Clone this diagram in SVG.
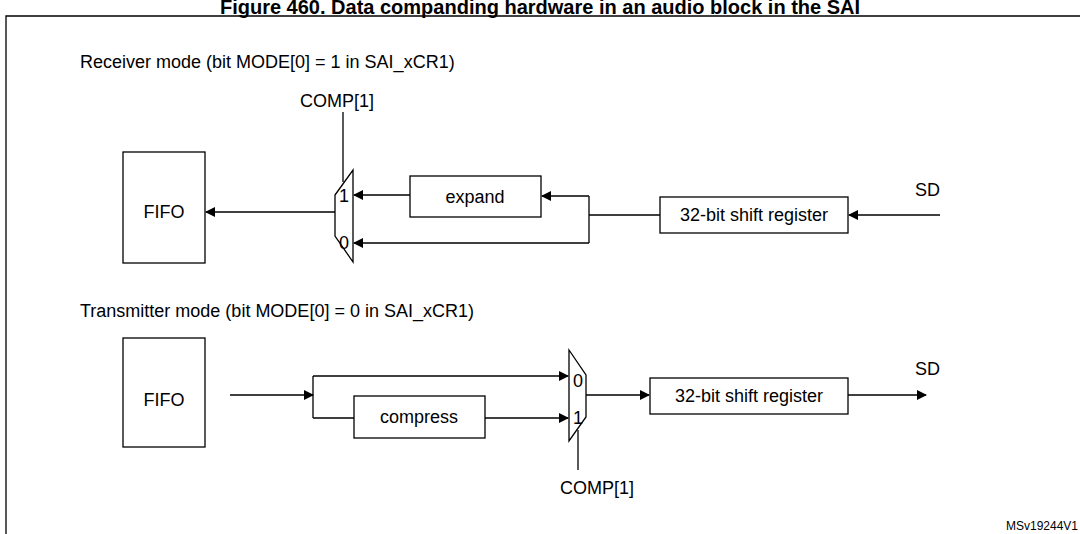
<svg xmlns="http://www.w3.org/2000/svg" width="1080" height="534" viewBox="0 0 1080 534">
<defs>
<marker id="ah" markerWidth="10" markerHeight="10" refX="9" refY="5" orient="auto" markerUnits="userSpaceOnUse"><path d="M0,0 L10,5 L0,10 Z" fill="#000"/></marker>
<style>
text{font-family:"Liberation Sans",Arial,sans-serif;fill:#000}
.t{font-size:18px}
.box{fill:#fff;stroke:#000;stroke-width:1.3}
.ln{stroke:#000;stroke-width:1.3;fill:none}
.ar{stroke:#000;stroke-width:1.3;fill:none;marker-end:url(#ah)}
</style>
</defs>
<rect width="1080" height="534" fill="#fff"/>
<text x="540" y="14" text-anchor="middle" style="font-size:20px;font-weight:bold">Figure 460. Data companding hardware in an audio block in the SAI</text>
<path d="M6,540 V16 H1090" class="ln" stroke-width="2"/>
<text x="80" y="68" class="t">Receiver mode (bit MODE[0] = 1 in SAI_xCR1)</text>
<text x="80" y="317" class="t">Transmitter mode (bit MODE[0] = 0 in SAI_xCR1)</text>
<g id="fifo1"><rect x="123" y="152" width="82" height="111" class="box"/><text x="164" y="218" text-anchor="middle" class="t">FIFO</text></g>
<g id="mux1"><path d="M335,195 L353,170 L353,262 L335,236 Z" class="box"/><text x="344" y="202" text-anchor="middle" class="t">1</text><text x="344" y="249" text-anchor="middle" class="t">0</text></g>
<g id="expand"><rect x="410" y="176" width="131" height="41" class="box"/><text x="475" y="203" text-anchor="middle" class="t">expand</text></g>
<g id="shift1"><rect x="660" y="197" width="188" height="36" class="box"/><text x="754" y="221" text-anchor="middle" class="t">32-bit shift register</text></g>
<text x="915" y="196" class="t">SD</text>
<text x="337" y="107" text-anchor="middle" class="t">COMP[1]</text>
<g id="fifo2"><rect x="123" y="338" width="82" height="109" class="box"/><text x="164" y="406" text-anchor="middle" class="t">FIFO</text></g>
<g id="compress"><rect x="354" y="396" width="131" height="42" class="box"/><text x="419" y="423" text-anchor="middle" class="t">compress</text></g>
<g id="mux2"><path d="M569,350 L586,375 L586,417 L569,441 Z" class="box"/><text x="578" y="387" text-anchor="middle" class="t">0</text><text x="578" y="424" text-anchor="middle" class="t">1</text></g>
<g id="shift2"><rect x="650" y="378" width="198" height="36" class="box"/><text x="749" y="402" text-anchor="middle" class="t">32-bit shift register</text></g>
<text x="915" y="375" class="t">SD</text>
<text x="597" y="494" text-anchor="middle" class="t">COMP[1]</text>
<text x="1078" y="530" text-anchor="end" style="font-size:12px">MSv19244V1</text>
<g id="connectors">
<path d="M343,112 V182" class="ln"/>
<path d="M335,212 H206" class="ar"/>
<path d="M410,195 H354" class="ar"/>
<path d="M589,243 H354" class="ar"/>
<path d="M589,196 V243 M589,215 H660" class="ln"/>
<path d="M589,196 H542" class="ar"/>
<path d="M940,215 H849" class="ar"/>
<path d="M230,395 H313" class="ar"/>
<path d="M313,376 V418 M313,418 H354" class="ln"/>
<path d="M313,376 H568" class="ar"/>
<path d="M485,418 H568" class="ar"/>
<path d="M578,430 V470" class="ln"/>
<path d="M586,395 H649" class="ar"/>
<path d="M848,395 H926" class="ar"/>
</g>
</svg>
